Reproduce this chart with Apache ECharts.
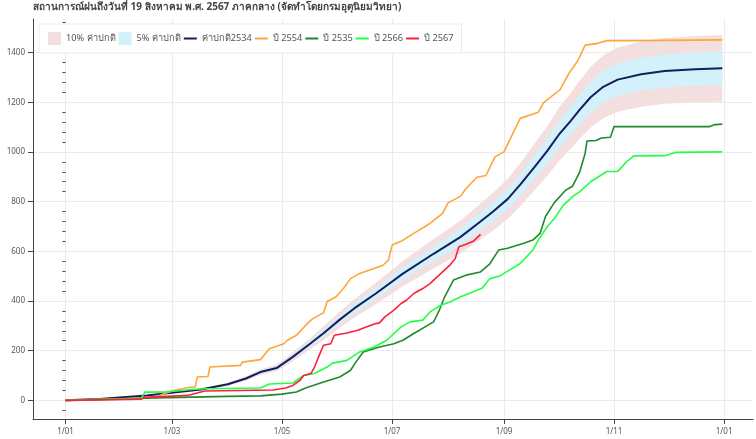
<!DOCTYPE html>
<html>
<head>
<meta charset="utf-8">
<script src="https://cdn.jsdelivr.net/npm/echarts@6/dist/echarts.min.js"></script>
<style>
  html, body { margin: 0; padding: 0; background: #fff; }
  #chart { width: 756px; height: 439px; }
</style>
</head>
<body>
<div id="chart"></div>
<script>
// day of year (0 = 1 Jan) and cumulative rainfall (mm)
var tickDays = [0, 59, 120, 181, 243, 304, 365];
var tickLabels = ['1/01', '1/03', '1/05', '1/07', '1/09', '1/11', '1/01'];
var yTicks = [0, 200, 400, 600, 800, 1000, 1200, 1400];

var normal = [[0, 0], [15, 4], [30, 12], [45, 20], [60, 32], [75, 44], [90, 65], [100, 88], [108, 114],
    [117, 130], [126, 175], [135, 225], [143, 270], [152, 325], [160, 370], [172, 430], [187, 510],
    [204, 590], [219, 658], [230, 720], [237, 760], [245, 810], [252, 868], [260, 940], [267, 1004],
    [274, 1075], [280, 1125], [285, 1170], [291, 1220], [298, 1262], [306, 1291], [319, 1313],
    [332, 1326], [349, 1333], [364, 1337]];

var y2554 = [[0, 0], [30, 5], [40, 8], [50, 15], [55, 28], [60, 40], [68, 52], [72, 55], [73, 94],
    [79, 96], [80, 134], [97, 141], [98, 154], [108, 164], [113, 208], [121, 228], [123, 242],
    [128, 262], [134, 309], [137, 329], [143, 352], [145, 398], [150, 417], [154, 450], [158, 490],
    [163, 511], [171, 531], [176, 544], [179, 565], [181, 625], [186, 640], [193, 672], [202, 712],
    [209, 753], [212, 795], [219, 822], [222, 853], [228, 898], [233, 905], [238, 980], [243, 1000],
    [252, 1135], [262, 1160], [265, 1198], [269, 1222], [274, 1250], [279, 1316], [284, 1368],
    [288, 1430], [295, 1437], [300, 1448], [314, 1448], [364, 1451]];

var y2535 = [[0, 0], [20, 4], [50, 10], [70, 13], [90, 16], [108, 18], [120, 25], [128, 34], [133, 50],
    [143, 74], [152, 94], [158, 121], [161, 155], [165, 195], [174, 215], [182, 228], [187, 242],
    [193, 269], [204, 316], [207, 360], [210, 415], [215, 484], [222, 504], [230, 517], [235, 548],
    [240, 605], [245, 612], [254, 632], [259, 645], [263, 672], [266, 740], [271, 797], [277, 845],
    [281, 862], [285, 920], [288, 995], [289, 1044], [294, 1046], [297, 1056], [302, 1059],
    [304, 1102], [357, 1102], [360, 1110], [364, 1112]];

var y2566 = [[0, 0], [20, 4], [42, 8], [44, 33], [56, 34], [70, 44], [78, 47], [108, 50], [113, 66],
    [126, 70], [132, 100], [138, 108], [145, 134], [148, 150], [156, 161], [163, 195], [171, 215],
    [178, 242], [186, 296], [191, 316], [198, 323], [202, 356], [208, 383], [213, 396], [219, 417],
    [226, 437], [231, 452], [235, 489], [241, 502], [246, 524], [252, 551], [259, 605], [262, 645],
    [267, 699], [271, 733], [276, 786], [281, 820], [285, 840], [291, 880], [300, 921], [306, 921],
    [311, 961], [315, 984], [332, 985], [338, 998], [364, 1000]];

var y2567 = [[0, 0], [42, 5], [44, 12], [68, 20], [72, 28], [77, 38], [115, 42], [122, 50], [126, 60],
    [130, 81], [132, 100], [136, 108], [138, 134], [141, 188], [143, 222], [147, 228], [149, 262],
    [156, 271], [162, 282], [167, 296], [172, 309], [174, 312], [177, 336], [182, 363], [186, 390],
    [189, 403], [193, 430], [198, 450], [202, 470], [206, 497], [210, 524], [213, 544], [216, 571],
    [218, 618], [222, 628], [226, 640], [230, 668]];

var pink = '#f3dfdf';
var skyBlue = '#d3f1fb';

// band = normal +/- pct, drawn as one polygon through the axes
function band(name, pct, color) {
    return {
        name: name, type: 'custom', silent: true, color: color,
        data: [[0, 0]],
        renderItem: function (params, api) {
            var pts = [];
            normal.forEach(function (p) { pts.push(api.coord([p[0], p[1] * (1 + pct)])); });
            normal.slice().reverse().forEach(function (p) { pts.push(api.coord([p[0], p[1] * (1 - pct)])); });
            return {
                type: 'polygon',
                shape: { points: pts },
                style: { fill: color }
            };
        }
    };
}

function line(name, data, color, width) {
    return {
        name: name, type: 'line', symbol: 'none', color: color,
        data: data,
        lineStyle: { color: color, width: width }
    };
}

var series = [
    band('10% ค่าปกติ', 0.10, pink),
    band('5% ค่าปกติ', 0.05, skyBlue),
    line('ค่าปกติ2534', normal, '#151d5c', 2),
    line('ปี 2554', y2554, '#ffa53a', 1.6),
    line('ปี 2535', y2535, '#1e8a2c', 1.6),
    line('ปี 2566', y2566, '#22ff44', 1.6),
    line('ปี 2567', y2567, '#ff1f3a', 1.6)
];

var font = '"Noto Sans", "DejaVu Sans", sans-serif';
var lineIcon = 'path://M0,0H26V4H0Z';
var minorTicks = [];
for (var v = -40; v <= 1520; v += 40) {
    if (v % 200 !== 0) minorTicks.push(v);
}

var option = {
    animation: false,
    backgroundColor: '#fff',
    textStyle: { fontFamily: font },
    title: {
        text: 'สถานการณ์ฝนถึงวันที่ 19 สิงหาคม พ.ศ. 2567 ภาคกลาง (จัดทำโดยกรมอุตุนิยมวิทยา)',
        left: 33, top: 2, padding: 0,
        textStyle: { fontSize: 10, fontWeight: 'bold', color: '#444', fontFamily: font }
    },
    legend: {
        left: 39, top: 24,
        padding: [8, 8, 8, 9],
        itemGap: 3, itemWidth: 13, itemHeight: 13,
        backgroundColor: '#fff', borderColor: '#ececec', borderWidth: 1,
        textStyle: { fontSize: 9.2, color: '#555', fontFamily: font },
        data: [
            { name: '10% ค่าปกติ', icon: 'rect', itemStyle: { color: pink } },
            { name: '5% ค่าปกติ', icon: 'rect', itemStyle: { color: skyBlue } },
            { name: 'ค่าปกติ2534', icon: lineIcon },
            { name: 'ปี 2554', icon: lineIcon },
            { name: 'ปี 2535', icon: lineIcon },
            { name: 'ปี 2566', icon: lineIcon },
            { name: 'ปี 2567', icon: lineIcon }
        ]
    },
    grid: { left: 33, right: 3, top: 19, bottom: 20 },
    xAxis: {
        type: 'value', min: -18, max: 381,
        axisLine: { onZero: false, lineStyle: { color: '#444' } },
        axisTick: { customValues: tickDays, length: 5, lineStyle: { color: '#444' } },
        axisLabel: {
            customValues: tickDays, margin: 9, fontSize: 8, color: '#555',
            formatter: function (val) { return tickLabels[tickDays.indexOf(val)]; }
        },
        splitLine: { show: true, lineStyle: { color: '#ebebeb' } }
    },
    yAxis: [{
        type: 'value', min: -75, max: 1535,
        axisLine: { show: true, onZero: false, lineStyle: { color: '#444' } },
        axisTick: { show: true, customValues: yTicks, length: 5, lineStyle: { color: '#444' } },
        axisLabel: {
            customValues: yTicks, margin: 8, fontSize: 8, color: '#555',
            formatter: function (val) { return String(val); }
        },
        splitLine: { show: true, lineStyle: { color: '#ebebeb' } }
    }, {
        type: 'value', min: -75, max: 1535, position: 'left',
        axisLine: { show: false },
        axisTick: { show: true, customValues: minorTicks, length: 3, lineStyle: { color: '#444' } },
        axisLabel: { show: false },
        splitLine: { show: false }
    }],
    series: series
};

var myChart = echarts.init(document.getElementById('chart'));
myChart.setOption(option);
</script>
</body>
</html>
